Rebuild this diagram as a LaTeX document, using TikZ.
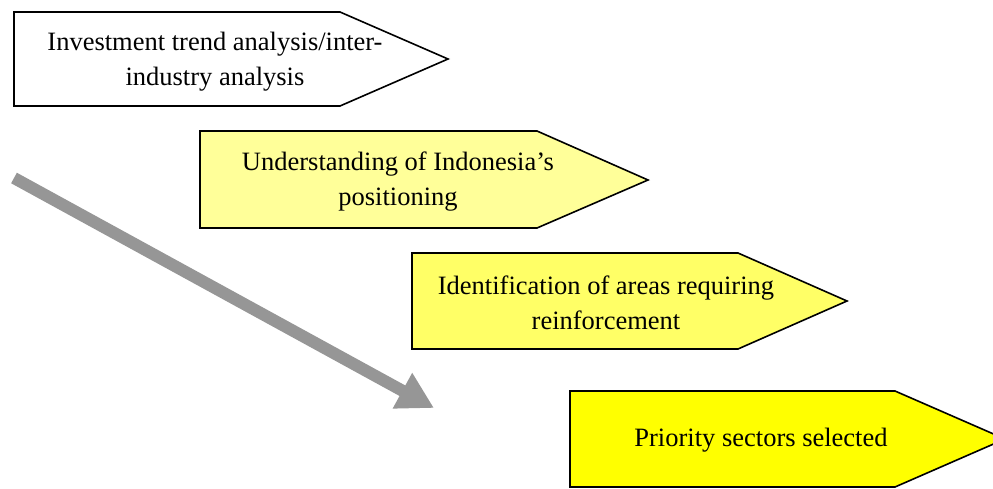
\documentclass[tikz,border=0pt]{standalone}
\usepackage{fontspec}
\setmainfont{Liberation Serif}
\usetikzlibrary{arrows.meta}
\begin{document}
\begin{tikzpicture}[x=1pt,y=-1pt,
  stage/.style={draw=black,line width=1.6pt,line join=miter},
  label/.style={font=\fontsize{26.5}{35}\selectfont,align=center,inner sep=0pt},
  flow/.style={draw=gray!82,line width=12pt,
    -{Triangle[length=36pt,width=38pt]}}]
\useasboundingbox (0,0) rectangle (993,489);
\definecolor{paleyellow}{HTML}{FFFF99}
\definecolor{midyellow}{HTML}{FFFF66}
\definecolor{fullyellow}{HTML}{FFFF00}

% stage pentagons
\path[stage,fill=white] (14,12) -- (340,12) -- (448,59) -- (340,106) -- (14,106) -- cycle;
\path[stage,fill=paleyellow] (200,131) -- (537,131) -- (648,180) -- (537,228) -- (200,228) -- cycle;
\path[stage,fill=midyellow] (412,253) -- (738,253) -- (847,301) -- (738,349) -- (412,349) -- cycle;
\path[stage,fill=fullyellow] (570,391) -- (895,391) -- (1005,439) -- (895,487) -- (570,487) -- cycle;

% stage captions
\node[label] (s1) at (215,62) {Investment trend analysis/inter-\\industry analysis};
\node[label] (s2) at (398,182) {Understanding of Indonesia’s\\positioning};
\node[label] (s3) at (606,303) {Identification of areas requiring\\reinforcement};
\node[label] (s4) at (761,440) {Priority sectors selected};

% overall direction arrow
\coordinate (flowstart) at (14,178);
\coordinate (flowend) at (434,408);
\draw[flow] (flowstart) -- (flowend);
\end{tikzpicture}
\end{document}
